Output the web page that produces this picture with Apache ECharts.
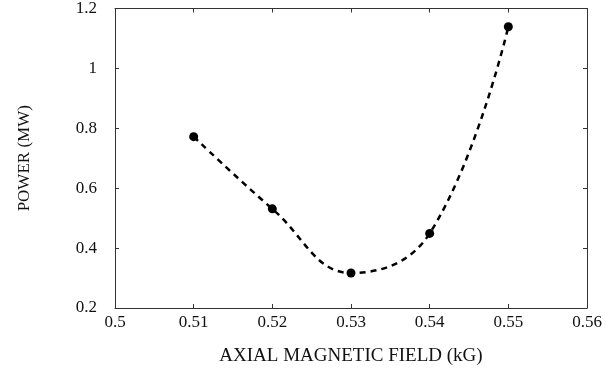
<!DOCTYPE html>
<html>
<head>
<meta charset="utf-8">
<script src="https://cdn.jsdelivr.net/npm/echarts@6/dist/echarts.min.js"></script>
<style>
  html, body { margin: 0; padding: 0; background: #fff; }
  #chart { width: 606px; height: 373px; }
</style>
</head>
<body>
<div id="chart"></div>
<script>
// field in kG, power in MW
const field = [0.51, 0.52, 0.53, 0.54, 0.55]
const power = [0.772, 0.531, 0.317, 0.449, 1.139]

const chart = echarts.init(document.getElementById("chart"))
const font = "Liberation Serif"
const axisColor = "#333"

const tickStyle = {
  show: true,
  inside: true,
  length: 4,
  lineStyle: { color: axisColor, width: 1 },
}

const option = {
  backgroundColor: "#fff",
  animation: false,
  grid: {
    left: 115,
    right: 19,
    top: 8,
    bottom: 65,
  },
  xAxis: [
    {
      type: "value",
      min: 0.5,
      max: 0.56,
      interval: 0.01,
      name: "AXIAL MAGNETIC FIELD (kG)",
      nameLocation: "middle",
      nameGap: 39,
      nameTextStyle: { fontFamily: font, fontSize: 19, color: "#111" },
      axisLine: { show: true, lineStyle: { color: axisColor, width: 1 } },
      axisTick: tickStyle,
      axisLabel: { fontFamily: font, fontSize: 17, color: "#111", margin: 6 },
      splitLine: { show: false },
    },
    {
      type: "value",
      position: "top",
      min: 0.5,
      max: 0.56,
      interval: 0.01,
      axisLine: { show: true, lineStyle: { color: axisColor, width: 1 } },
      axisTick: tickStyle,
      axisLabel: { show: false },
      splitLine: { show: false },
    },
  ],
  yAxis: [
    {
      type: "value",
      min: 0.2,
      max: 1.2,
      interval: 0.2,
      name: "POWER (MW)",
      nameLocation: "middle",
      nameGap: 82,
      nameRotate: 90,
      nameTextStyle: { fontFamily: font, fontSize: 17, color: "#111" },
      axisLine: { show: true, lineStyle: { color: axisColor, width: 1 } },
      axisTick: tickStyle,
      axisLabel: {
        fontFamily: font,
        fontSize: 17,
        color: "#111",
        margin: 18,
        formatter: (v) => String(Math.round(v * 10) / 10),
      },
      splitLine: { show: false },
    },
    {
      type: "value",
      position: "right",
      min: 0.2,
      max: 1.2,
      interval: 0.2,
      axisLine: { show: true, lineStyle: { color: axisColor, width: 1 } },
      axisTick: tickStyle,
      axisLabel: { show: false },
      splitLine: { show: false },
    },
  ],
  series: [
    {
      type: "line",
      data: field.map((x, i) => [x, power[i]]),
      smooth: 0.42,
      symbol: "circle",
      symbolSize: 9,
      itemStyle: { color: "#000" },
      lineStyle: { color: "#000", width: 2.5, type: [6, 5] },
    },
  ],
}

chart.setOption(option)
</script>
</body>
</html>
